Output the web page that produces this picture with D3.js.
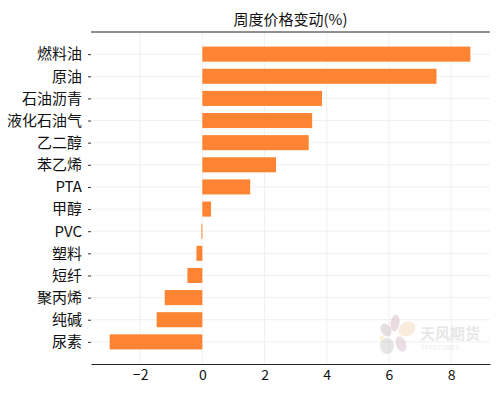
<!DOCTYPE html>
<html>
<head>
<meta charset="utf-8">
<title>周度价格变动</title>
<script src="https://d3js.org/d3.v7.min.js"></script>
<style>
    body{ margin:0; background:#fff; }
    text{ font-family:"Noto Sans CJK SC", sans-serif; fill:#111; }
</style>
</head>
<body>
<script>
    // data
    var categories = ["燃料油","原油","石油沥青","液化石油气","乙二醇","苯乙烯","PTA","甲醇","PVC","塑料","短纤","聚丙烯","纯碱","尿素"];
    var values = [8.62, 7.53, 3.85, 3.53, 3.42, 2.37, 1.54, 0.28, -0.03, -0.19, -0.48, -1.21, -1.47, -2.98];
    var xTicks = [-2, 0, 2, 4, 6, 8];
    var title = "周度价格变动(%)";

    var w = 504, h = 396;
    var mLeft = 91, mRight = 490, mTop = 32, mBottom = 364;

    var svg = d3.select("body").append("svg")
        .attr("width", w).attr("height", h);

    var xScale = d3.scaleLinear().domain([-3.58, 9.25]).range([mLeft, mRight]);
    // index scale, one empty band above and below
    var yScale = d3.scaleLinear().domain([-1, categories.length]).range([mTop, mBottom]);
    var step = yScale(1) - yScale(0);
    var barH = step * 0.68;

    // grid
    svg.append("g").selectAll("line")
        .data(xTicks).enter().append("line")
        .attr("x1", function(d){ return xScale(d); })
        .attr("x2", function(d){ return xScale(d); })
        .attr("y1", mTop).attr("y2", mBottom)
        .attr("stroke", "#ececec").attr("stroke-width", 0.8);
    svg.append("g").selectAll("line")
        .data(categories).enter().append("line")
        .attr("x1", mLeft).attr("x2", mRight)
        .attr("y1", function(d, i){ return yScale(i); })
        .attr("y2", function(d, i){ return yScale(i); })
        .attr("stroke", "#ececec").attr("stroke-width", 0.8);

    // watermark
    var wm = svg.append("g").attr("transform", "translate(398,335)").attr("opacity", 0.35);
    wm.append("ellipse").attr("cx", -12).attr("cy", -5).attr("rx", 5).attr("ry", 7)
        .attr("transform", "rotate(-30,-12,-5)").attr("fill", "#b9a3a8");
    wm.append("ellipse").attr("cx", -3).attr("cy", -12).attr("rx", 4.5).attr("ry", 8.5)
        .attr("transform", "rotate(10,-3,-12)").attr("fill", "#c79cad");
    wm.append("ellipse").attr("cx", 9).attr("cy", -6).attr("rx", 9).attr("ry", 7)
        .attr("transform", "rotate(-30,9,-6)").attr("fill", "#f3c9a0");
    wm.append("ellipse").attr("cx", -11).attr("cy", 11).attr("rx", 7).attr("ry", 8).attr("fill", "#b8b8b8");
    wm.append("ellipse").attr("cx", 3).attr("cy", 9).attr("rx", 5).attr("ry", 8)
        .attr("transform", "rotate(-20,3,9)").attr("fill", "#c7a3b8");
    wm.append("ellipse").attr("cx", -16).attr("cy", 3).attr("rx", 3).attr("ry", 2).attr("fill", "#f2dc8c");
    wm.append("text").attr("x", 22).attr("y", 4).attr("font-size", 15).attr("font-weight", "bold")
        .style("fill", "#bdbdbd").text("天风期货");
    wm.append("text").attr("x", 23).attr("y", 15).attr("font-size", 6).attr("letter-spacing", 0.6)
        .style("fill", "#bdbdbd").text("TFFUTURES");

    // bars
    svg.append("g").selectAll("rect")
        .data(values).enter().append("rect")
        .attr("x", function(d){ return xScale(Math.min(0, d)); })
        .attr("y", function(d, i){ return yScale(i) - barH / 2; })
        .attr("width", function(d){ return Math.abs(xScale(d) - xScale(0)); })
        .attr("height", barH)
        .attr("fill", "#fd8432");

    // y axis labels (no spine)
    var yAxis = d3.axisLeft(yScale)
        .tickValues(d3.range(categories.length))
        .tickFormat(function(i){ return categories[i]; })
        .tickSize(3).tickPadding(6);
    var gy = svg.append("g").attr("transform", "translate(" + mLeft + ",0)").call(yAxis);
    gy.select(".domain").remove();
    gy.selectAll("line").attr("stroke", "#333");
    gy.selectAll("text").attr("font-size", 15).style("font-family", "'Noto Sans CJK SC', sans-serif");

    // x axis
    var xAxis = d3.axisBottom(xScale).tickValues(xTicks).tickSize(0).tickPadding(6)
        .tickFormat(function(d){ return d < 0 ? "\u2212" + Math.abs(d) : d; });
    var gx = svg.append("g").attr("transform", "translate(0," + mBottom + ")").call(xAxis);
    gx.select(".domain").attr("stroke", "#222").attr("stroke-width", 1.2);
    gx.selectAll("text").attr("font-size", 14).style("font-family", "'Noto Sans CJK SC', sans-serif");

    // top spine
    svg.append("line").attr("x1", mLeft).attr("x2", mRight).attr("y1", mTop).attr("y2", mTop)
        .attr("stroke", "#222").attr("stroke-width", 1.2);

    // title
    svg.append("text").attr("x", (mLeft + mRight) / 2).attr("y", 25)
        .attr("text-anchor", "middle").attr("font-size", 15).text(title);
</script>
</body>
</html>
